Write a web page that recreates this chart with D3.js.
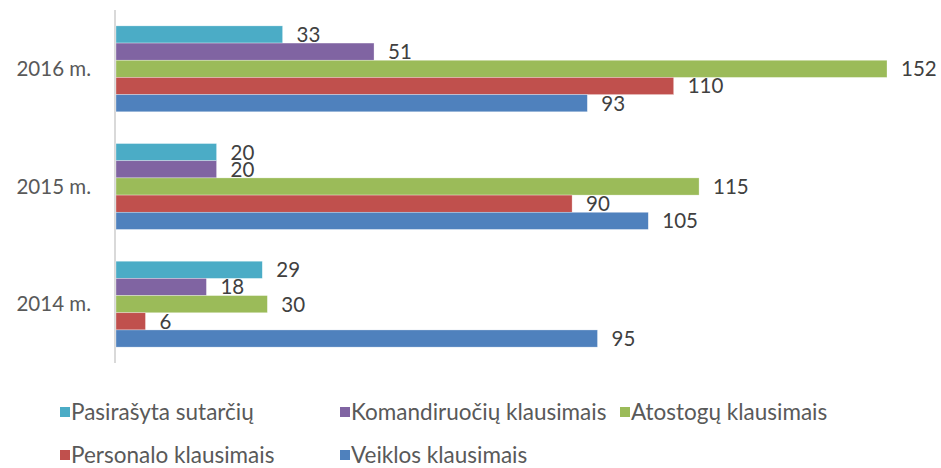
<!DOCTYPE html>
<html>
<head>
<meta charset="utf-8">
<script src="https://cdn.jsdelivr.net/npm/d3@7"></script>
<style>
  body { margin: 0; background: #fff; }
  text { font-family: Lato, "Open Sans", sans-serif; }
</style>
</head>
<body>
<script>
// data
var years = ["2016 m.", "2015 m.", "2014 m."];
var seriesNames = ["Pasirašyta sutarčių", "Komandiruočių klausimais", "Atostogų klausimais", "Personalo klausimais", "Veiklos klausimais"];
var seriesColors = ["#4BACC6", "#8064A2", "#9BBB59", "#C0504D", "#4F81BD"];
var sutartys = [33, 20, 29];
var komandiruotes = [51, 20, 18];
var atostogos = [152, 115, 30];
var personalas = [110, 90, 6];
var veikla = [93, 105, 95];

var allSeries = [sutartys, komandiruotes, atostogos, personalas, veikla];

var width = 941, height = 468;
var svg = d3.select("body").append("svg")
    .attr("width", width)
    .attr("height", height);

var x = d3.scaleLinear().domain([0, 152]).range([115, 887]);
var y0 = d3.scaleBand().domain(years).range([10, 363]).paddingInner(0.27).paddingOuter(0.135);
var y1 = d3.scaleBand().domain(seriesNames).range([0, y0.bandwidth()]);

// axis line
svg.append("line")
    .attr("x1", x(0)).attr("x2", x(0))
    .attr("y1", 10).attr("y2", 363)
    .attr("stroke", "#d9d9d9")
    .attr("stroke-width", 2);

// category labels
svg.selectAll(".cat")
    .data(years)
    .enter().append("text")
    .attr("class", "cat")
    .attr("x", 91)
    .attr("y", function(d) { return y0(d) + y0.bandwidth() / 2; })
    .attr("dy", "0.35em")
    .attr("text-anchor", "end")
    .attr("font-size", "20.5px")
    .attr("fill", "#595959")
    .text(function(d) { return d; });

var rows = [];
years.forEach(function(yr, i) {
    seriesNames.forEach(function(s, j) {
        rows.push({ year: yr, series: s, value: allSeries[j][i], color: seriesColors[j] });
    });
});

var g = svg.selectAll(".bar")
    .data(rows)
    .enter().append("g")
    .attr("class", "bar");

g.append("rect")
    .attr("x", x(0) + 1)
    .attr("y", function(d) { return y0(d.year) + y1(d.series); })
    .attr("width", function(d) { return x(d.value) - x(0) - 1; })
    .attr("height", y1.bandwidth())
    .attr("fill", function(d) { return d.color; })
    .attr("stroke", "#ffffff")
    .attr("stroke-opacity", 0.5)
    .attr("stroke-width", 0.6);

g.append("text")
    .attr("x", function(d) { return x(d.value) + 14; })
    .attr("y", function(d) { return y0(d.year) + y1(d.series) + y1.bandwidth() / 2; })
    .attr("dy", "0.36em")
    .attr("font-size", "20.5px")
    .attr("fill", "#404040")
    .text(function(d) { return d.value; });

// legend
var legendPos = [[60, 412], [340, 412], [620, 412], [60, 455], [340, 455]];
var lg = svg.selectAll(".legend")
    .data(seriesNames)
    .enter().append("g")
    .attr("class", "legend")
    .attr("transform", function(d, i) { return "translate(" + legendPos[i][0] + "," + legendPos[i][1] + ")"; });

lg.append("rect")
    .attr("x", 0).attr("y", -5)
    .attr("width", 10).attr("height", 10)
    .attr("fill", function(d, i) { return seriesColors[i]; });

lg.append("text")
    .attr("x", 11)
    .attr("dy", "0.35em")
    .attr("font-size", "22.5px")
    .attr("fill", "#595959")
    .text(function(d) { return d; });
</script>
</body>
</html>
